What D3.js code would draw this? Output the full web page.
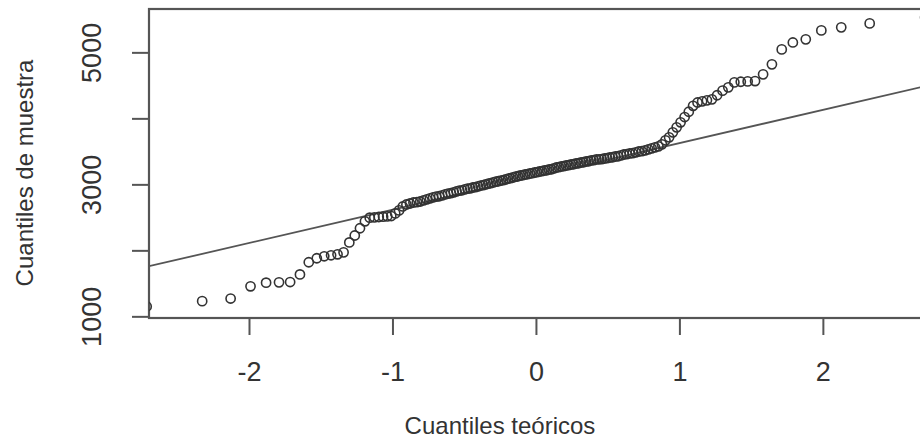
<!DOCTYPE html>
<html>
<head>
<meta charset="utf-8">
<script src="https://cdn.jsdelivr.net/npm/d3@7"></script>
<style>
  html, body { margin: 0; padding: 0; background: #fff; }
  svg { display: block; }
  text { font-family: "Liberation Sans", Arial, sans-serif; fill: #333; }
</style>
</head>
<body>
<svg id="chart" width="920" height="441"></svg>
<script>
// ---- data (sorted sample quantiles) ----
const sampleQuantiles = [
  1150, 1230, 1270, 1455, 1510, 1515, 1520, 1635, 1820, 1880,
  1910, 1925, 1940, 1970, 2120, 2225, 2335, 2440, 2495, 2500,
  2505, 2510, 2515, 2520, 2560, 2605, 2665, 2695, 2710, 2725,
  2730, 2740, 2758, 2773, 2788, 2803, 2815, 2820, 2833, 2848,
  2860, 2866, 2879, 2894, 2905, 2910, 2924, 2936, 2940, 2952,
  2957, 2970, 2982, 2988, 3000, 3012, 3018, 3030, 3042, 3047,
  3058, 3063, 3076, 3088, 3093, 3106, 3118, 3123, 3134, 3139,
  3150, 3155, 3165, 3170, 3180, 3185, 3195, 3199, 3210, 3214,
  3225, 3229, 3242, 3256, 3260, 3271, 3275, 3286, 3290, 3301,
  3305, 3316, 3320, 3331, 3335, 3346, 3350, 3362, 3366, 3377,
  3380, 3382, 3392, 3396, 3407, 3411, 3422, 3426, 3439, 3452,
  3457, 3468, 3472, 3485, 3498, 3502, 3515, 3530, 3545, 3561,
  3576, 3606, 3667, 3712, 3788, 3864, 3940, 4020, 4100, 4190,
  4240, 4258, 4273, 4288, 4350, 4420, 4470, 4545, 4555, 4560,
  4565, 4667, 4818, 5045, 5150, 5197, 5333, 5379, 5439, 5530
];
const xTicks = [-2, -1, 0, 1, 2];
const yTicks = [1000, 2000, 3000, 4000, 5000];
const yTickLabels = ["1000", "", "3000", "", "5000"];
const refLine = { intercept: 3120, slope: 504.5 };   // qqline
const xTitle = "Cuantiles teóricos";
const yTitle = "Cuantiles de muestra";

// inverse standard normal CDF (Acklam)
function qnorm(p) {
  const a=[-3.969683028665376e+01,2.209460984245205e+02,-2.759285104469687e+02,1.383577518672690e+02,-3.066479806614716e+01,2.506628277459239e+00];
  const b=[-5.447609879822406e+01,1.615858368580409e+02,-1.556989798598866e+02,6.680131188771972e+01,-1.328068155288572e+01];
  const c=[-7.784894002430293e-03,-3.223964580411365e-01,-2.400758277161838e+00,-2.549732539343734e+00,4.374664141464968e+00,2.938163982698783e+00];
  const d=[7.784695709041462e-03,3.224671290700398e-01,2.445134137142996e+00,3.754408661907416e+00];
  const pl = 0.02425, ph = 1 - pl;
  let q, r;
  if (p < pl) { q = Math.sqrt(-2*Math.log(p)); return (((((c[0]*q+c[1])*q+c[2])*q+c[3])*q+c[4])*q+c[5])/((((d[0]*q+d[1])*q+d[2])*q+d[3])*q+1); }
  if (p > ph) { q = Math.sqrt(-2*Math.log(1-p)); return -(((((c[0]*q+c[1])*q+c[2])*q+c[3])*q+c[4])*q+c[5])/((((d[0]*q+d[1])*q+d[2])*q+d[3])*q+1); }
  q = p - 0.5; r = q*q;
  return (((((a[0]*r+a[1])*r+a[2])*r+a[3])*r+a[4])*r+a[5])*q/(((((b[0]*r+b[1])*r+b[2])*r+b[3])*r+b[4])*r+1);
}
const n = sampleQuantiles.length;
const points = sampleQuantiles.map((v, i) => ({ x: qnorm((i + 0.5) / n), y: v }));

// ---- layout ----
const box = { left: 149, top: 9, right: 930, bottom: 318 };
const x = d3.scaleLinear().domain([-2.697, 2.677]).range([box.left, 920]);
const y = d3.scaleLinear().domain([975, 5657]).range([box.bottom, box.top]);

const svg = d3.select("#chart");

svg.append("defs").append("clipPath").attr("id", "plotclip")
  .append("rect").attr("x", box.left).attr("y", box.top)
  .attr("width", box.right - box.left).attr("height", box.bottom - box.top);

// axes
const yAxis = svg.append("g").attr("transform", `translate(${box.left},0)`)
  .call(d3.axisLeft(y).tickValues(yTicks).tickSize(17).tickFormat((d, i) => yTickLabels[i]));
const xAxis = svg.append("g").attr("transform", `translate(0,${box.bottom})`)
  .call(d3.axisBottom(x).tickValues(xTicks).tickSize(17).tickFormat(d3.format("d")));

[xAxis, yAxis].forEach(g => {
  g.select(".domain").remove();
  g.selectAll(".tick line").attr("stroke", "#555").attr("stroke-width", 2);
  g.selectAll(".tick text").attr("fill", "#333").style("font-size", "27px")
    .style("font-family", '"Liberation Sans", Arial, sans-serif');
});
yAxis.selectAll(".tick text")
  .attr("x", null).attr("dy", null).attr("text-anchor", "middle")
  .attr("transform", "translate(-48,0) rotate(-90)");
xAxis.selectAll(".tick text").attr("y", 63).attr("dy", null).text(d => d < 0 ? "-" + Math.abs(d) : d);

// box
svg.append("rect")
  .attr("x", box.left).attr("y", box.top)
  .attr("width", box.right - box.left).attr("height", box.bottom - box.top)
  .attr("fill", "none").attr("stroke", "#555").attr("stroke-width", 2.2);

const plot = svg.append("g").attr("clip-path", "url(#plotclip)");

// qqline
const xd = x.domain();
plot.append("line")
  .attr("x1", x(xd[0])).attr("y1", y(refLine.intercept + refLine.slope * xd[0]))
  .attr("x2", x(3)).attr("y2", y(refLine.intercept + refLine.slope * 3))
  .attr("stroke", "#555").attr("stroke-width", 1.8);

// points
plot.selectAll("circle.pt").data(points).enter().append("circle")
  .attr("class", "pt")
  .attr("cx", d => x(d.x)).attr("cy", d => y(d.y)).attr("r", 4.6)
  .attr("fill", "none").attr("stroke", "#333").attr("stroke-width", 1.6);

// titles
svg.append("text").attr("x", 500).attr("y", 434).attr("text-anchor", "middle")
  .style("font-size", "24px").text(xTitle);
svg.append("text").attr("transform", "translate(33,173) rotate(-90)").attr("text-anchor", "middle")
  .style("font-size", "24px").text(yTitle);
</script>
</body>
</html>
